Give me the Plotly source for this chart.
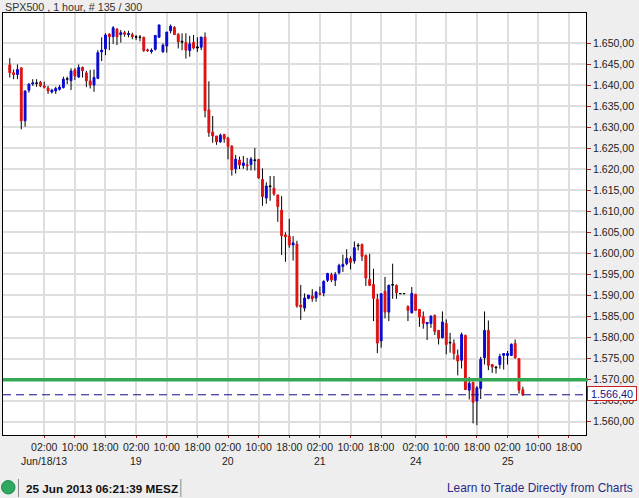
import plotly.graph_objects as go

# Hourly bars
opens = [1644.8,1642.95,1642.5,1644.1,1631.5,1638.8,1640.3,1640.4,1640.7,1639.8,
 1639.3,1638.35,1638.6,1639.0,1639.4,1641.4,1641.05,1643.6,1641.9,1644.2,
 1642.9,1641.0,1640.0,1641.6,1647.9,1648.6,1652.1,1651.5,1653.3,1652.0,
 1652.45,1652.0,1652.0,1651.35,1651.3,1651.35,1648.3,1648.0,1648.5,1651.35,
 1647.9,1649.3,1652.9,1653.7,1652.1,1650.2,1650.15,1648.2,1650.15,1648.8,
 1649.0,1651.4,1634.1,1628.85,1627.9,1626.5,1628.3,1627.4,1625.5,1620.1,
 1622.2,1620.85,1621.0,1621.1,1622.05,1622.35,1617.6,1613.15,1615.85,1615.5,
 1613.9,1610.3,1604.4,1604.1,1602.0,1602.2,1587.7,1587.0,1589.3,1589.9,
 1589.4,1590.5,1590.6,1593.6,1594.9,1593.6,1595.4,1596.9,1597.55,1598.8,
 1598.2,1601.75,1602.15,1599.5,1593.8,1592.6,1589.1,1579.2,1591.0,1586.05,
 1592.45,1592.4,1590.4,1590.4,1587.4,1585.9,1590.25,1586.7,1585.0,1583.25,
 1583.35,1585.25,1581.7,1579.95,1583.35,1578.7,1578.6,1575.75,1574.6,1580.5,
 1567.5,1569.4,1564.9,1567.9,1575.2,1581.7,1573.6,1572.8,1573.6,1575.75,
 1575.75,1575.75,1578.6,1575.0,1567.6]
highs = [1646.4,1643.7,1644.9,1644.2,1638.7,1640.4,1641.4,1641.4,1641.0,1640.8,
 1639.8,1639.1,1639.6,1640.0,1642.0,1642.0,1644.0,1644.0,1644.9,1644.4,
 1643.4,1643.6,1643.7,1648.3,1651.35,1652.3,1652.3,1654.0,1653.5,1653.1,
 1652.9,1652.9,1652.45,1651.9,1651.9,1651.5,1648.65,1648.7,1651.9,1654.3,
 1649.9,1652.6,1654.4,1654.0,1652.3,1652.3,1652.3,1651.7,1651.9,1651.35,
 1651.5,1652.5,1640.9,1632.65,1627.9,1628.5,1628.3,1627.7,1625.7,1623.4,
 1623.0,1623.15,1622.7,1622.9,1625.05,1622.35,1620.2,1616.9,1618.4,1618.4,
 1613.9,1613.6,1605.0,1608.2,1604.1,1603.0,1592.5,1590.5,1590.1,1591.5,
 1591.1,1592.1,1593.6,1595.4,1595.4,1595.55,1597.55,1599.7,1601.0,1599.3,
 1602.85,1602.45,1602.3,1599.75,1599.9,1596.35,1590.4,1590.55,1594.4,1592.6,
 1597.55,1592.6,1590.5,1590.5,1587.65,1592.0,1590.4,1586.7,1586.2,1583.65,
 1585.25,1585.5,1581.7,1586.2,1584.3,1581.1,1579.55,1577.15,1581.2,1580.7,
 1570.65,1569.4,1568.45,1575.4,1586.2,1584.05,1573.6,1573.0,1576.15,1576.2,
 1576.8,1578.6,1579.55,1575.0,1568.3]
lows = [1641.8,1641.4,1641.4,1629.5,1630.1,1638.2,1639.8,1639.6,1639.5,1639.2,
 1637.9,1638.0,1637.9,1638.7,1639.2,1640.25,1638.8,1641.2,1641.75,1641.8,
 1639.5,1639.2,1638.4,1641.4,1645.7,1647.1,1648.3,1649.8,1649.5,1650.1,
 1651.5,1651.35,1650.9,1650.7,1650.4,1647.9,1647.9,1647.5,1648.2,1651.35,
 1647.7,1647.7,1652.3,1651.9,1648.7,1648.3,1646.3,1646.75,1648.5,1647.9,
 1648.3,1632.3,1627.7,1626.3,1625.8,1626.3,1626.3,1622.35,1618.5,1618.95,
 1620.05,1620.1,1619.7,1619.7,1619.7,1617.75,1611.3,1611.8,1612.5,1613.7,
 1607.5,1599.6,1598.0,1601.35,1598.3,1587.1,1584.2,1586.2,1589.1,1588.5,
 1588.5,1590.0,1589.8,1593.2,1593.2,1592.25,1595.0,1595.6,1597.15,1596.2,
 1597.55,1600.7,1598.2,1592.25,1592.25,1583.9,1576.3,1577.6,1584.55,1583.9,
 1589.2,1589.2,1590.35,1590.35,1583.9,1585.7,1586.3,1582.55,1582.1,1579.4,
 1582.3,1580.6,1578.35,1579.8,1576.0,1576.4,1574.8,1571.0,1572.65,1567.5,
 1565.3,1559.6,1559.2,1565.4,1573.6,1572.25,1571.6,1571.45,1572.6,1572.4,
 1573.6,1575.6,1574.95,1566.7,1566.1]
closes = [1642.95,1642.5,1643.7,1631.5,1638.6,1640.25,1640.5,1640.5,1639.8,1639.5,
 1638.6,1638.8,1639.2,1639.5,1641.4,1641.5,1643.35,1642.15,1644.2,1643.4,
 1641.0,1640.0,1641.8,1647.7,1648.3,1651.9,1651.5,1653.6,1651.5,1652.45,
 1652.1,1652.2,1651.5,1651.5,1651.4,1648.2,1648.2,1648.25,1651.8,1654.3,
 1649.5,1652.6,1654.0,1652.0,1650.3,1650.4,1648.3,1649.8,1648.8,1649.05,
 1651.4,1633.9,1628.7,1627.9,1626.5,1628.1,1627.2,1625.4,1619.9,1622.4,
 1621.0,1621.5,1620.85,1622.4,1622.2,1617.9,1613.5,1616.0,1616.0,1614.1,
 1611.1,1604.2,1604.0,1602.0,1602.5,1587.5,1587.25,1589.4,1590.1,1589.2,
 1590.8,1590.35,1593.35,1595.2,1593.7,1595.0,1597.15,1597.4,1598.8,1597.85,
 1601.35,1601.9,1599.3,1594.15,1592.4,1589.3,1578.7,1590.4,1586.05,1592.4,
 1592.6,1590.6,1590.45,1590.45,1586.45,1590.5,1586.45,1584.9,1583.35,1583.6,
 1585.1,1581.45,1579.8,1583.7,1578.35,1578.85,1576.2,1574.4,1580.7,1567.65,
 1569.1,1564.65,1568.05,1574.8,1581.7,1573.4,1573.0,1573.0,1575.5,1576.2,
 1576.2,1578.4,1575.2,1567.5,1566.4]
black_bars = [7, 15, 33, 34, 45, 49, 64, 68, 91, 100, 102, 103, 115, 127]

bar_index = list(range(len(opens)))
hour_ticks = [9, 17, 25, 33, 41, 49, 57, 65, 73, 81, 89, 97, 106, 114, 122, 130, 138, 146]
hour_labels = ["02:00", "10:00", "18:00"] * 6
day_ticks = [9, 33, 57, 81, 106, 130]
day_labels = ["Jun/18/13", "19", "20", "21", "24", "25"]
price_ticks = list(range(1560, 1655, 5))
price_labels = [f"1.{p - 1000},00" for p in price_ticks]
support_level = 1570
last_price = 1566.4
last_price_label = "1.566,40"

title_text = "SPX500 , 1 hour, # 135 / 300"
clock_text = "25 Jun 2013 06:21:39 MESZ"
link_text = "Learn to Trade Directly from Charts"

W, H = 639, 498
L, R, T, B = 3, 586.5, 13, 435
FONT = "Liberation Sans"


def px(x):
    return (x - L) / (R - L)


def py(y):
    return (B - y) / (B - T)


# coloured bodies sit on their own trace; the black trace only keeps a body for crosses
wick_o, wick_c, body_o, body_c, body_h, body_l = [], [], [], [], [], []
for i, (o, c) in enumerate(zip(opens, closes)):
    if i in black_bars:
        wick_o.append(o); wick_c.append(c)
        body_o.append(None); body_c.append(None); body_h.append(None); body_l.append(None)
    else:
        mid = (o + c) / 2
        wick_o.append(mid); wick_c.append(mid)
        body_o.append(o); body_c.append(c); body_h.append(max(o, c)); body_l.append(min(o, c))

fig = go.Figure()
fig.add_trace(go.Candlestick(
    x=bar_index, open=wick_o, high=highs, low=lows, close=wick_c,
    whiskerwidth=0,
    increasing=dict(line=dict(color="#000000", width=1), fillcolor="#000000"),
    decreasing=dict(line=dict(color="#000000", width=1), fillcolor="#000000"),
    showlegend=False, name="wicks"))
fig.add_trace(go.Candlestick(
    x=bar_index, open=body_o, high=body_h, low=body_l, close=body_c,
    whiskerwidth=0,
    increasing=dict(line=dict(color="#0a0ad2", width=1), fillcolor="#0a0ad2"),
    decreasing=dict(line=dict(color="#e01212", width=1), fillcolor="#e01212"),
    showlegend=False, name="SPX500"))

fig.add_shape(type="line", xref="paper", yref="y", x0=0, x1=1.003,
              y0=support_level, y1=support_level,
              line=dict(color="#35a854", width=3.5), layer="above")
fig.add_shape(type="line", xref="paper", yref="y", x0=0, x1=1,
              y0=last_price, y1=last_price,
              line=dict(color="#0f0f8c", width=1, dash="8px,5px"), layer="above")

# footer furniture
fig.add_shape(type="circle", xref="paper", yref="paper",
              x0=px(1.5), x1=px(15), y0=py(494), y1=py(480.5),
              fillcolor="#2fa860", line=dict(color="#1c8a4c", width=1))
for sx in (18.5, 181):
    fig.add_shape(type="line", xref="paper", yref="paper", x0=px(sx), x1=px(sx),
                  y0=py(497), y1=py(479), line=dict(color="#8a8a8a", width=1))

annotations = [
    dict(text=title_text, x=px(3), y=py(7), xanchor="left", yanchor="middle",
         font=dict(family=FONT, size=10.7, color="#333333")),
    dict(text=clock_text, x=px(24), y=py(488), xanchor="left", yanchor="middle",
         font=dict(family=FONT, size=11.7, color="#111111", weight="bold")),
    dict(text=link_text, x=px(636), y=py(488), xanchor="right", yanchor="middle",
         font=dict(family=FONT, size=11.9, color="#2a2a85")),
    dict(text=last_price_label,
         x=px(613), y=last_price, yref="y", xanchor="center", yanchor="middle", yshift=1,
         font=dict(family=FONT, size=10.8, color="#14148c"), bgcolor="#ffffff",
         bordercolor="#c81e1e", borderwidth=1, borderpad=1, width=46, height=11),
]
for tick, label in zip(day_ticks, day_labels):
    annotations.append(dict(text=label, x=tick, xref="x", y=py(461), xanchor="center",
                            yanchor="middle",
                            font=dict(family=FONT, size=10.5, color="#222222")))
for a in annotations:
    a.setdefault("xref", "paper")
    a.setdefault("yref", "paper")
    a["showarrow"] = False

fig.update_layout(
    width=W, height=H, autosize=False,
    margin=dict(l=L, r=W - R, t=T, b=H - B, pad=0),
    paper_bgcolor="#eeeeee", plot_bgcolor="#ffffff",
    boxmode="overlay", showlegend=False, annotations=annotations,
    xaxis=dict(range=[-1.77, 150.5], rangeslider=dict(visible=False),
               tickmode="array", tickvals=hour_ticks, ticktext=hour_labels,
               ticks="outside", ticklen=2, tickwidth=1, tickcolor="#c01818",
               tickangle=0,
               tickfont=dict(family=FONT, size=10.5, color="#222222"),
               showgrid=True, gridcolor="#dedede", gridwidth=1.6,
               showline=True, linecolor="#000000", linewidth=1, mirror=True,
               zeroline=False),
    yaxis=dict(range=[1556.84, 1657.13], side="right",
               tickmode="array", tickvals=price_ticks, ticktext=price_labels,
               ticks="outside", ticklen=4, tickwidth=1, tickcolor="#c01818",
               tickfont=dict(family=FONT, size=10.5, color="#222222"),
               showgrid=True, gridcolor="#dedede", gridwidth=1.6,
               showline=True, linecolor="#000000", linewidth=1, mirror=True,
               zeroline=False),
)

fig.write_html("out.html", config={"displayModeBar": False},
               post_script="document.body.style.margin='0';document.body.style.background='#eeeeee';")
